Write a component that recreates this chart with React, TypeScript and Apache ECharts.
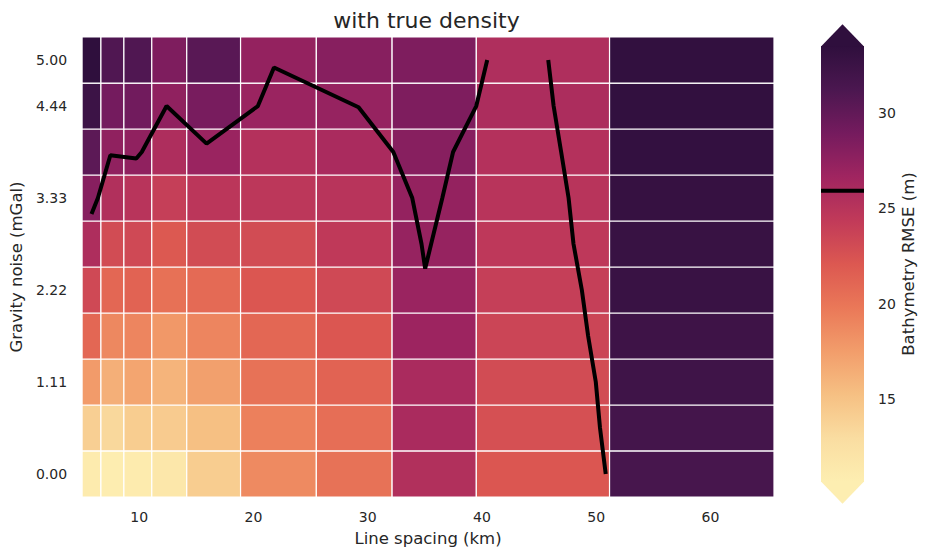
import React, { useEffect, useRef } from "react";
import * as echarts from "echarts";

const TITLE = "with true density";
const X_NAME = "Line spacing (km)";
const Y_NAME = "Gravity noise (mGal)";
const CBAR_NAME = "Bathymetry RMSE (m)";

// cell centres
const X_CENTERS = [5.83, 7.48, 9.85, 12.36, 15.97, 21.78, 29.23, 35.04, 43.97, 58.36];
const Y_CENTERS = [0, 0.556, 1.111, 1.667, 2.222, 2.778, 3.333, 3.889, 4.444, 5.0];

const X_TICKS = [10, 20, 30, 40, 50, 60];
const Y_TICKS = [0, 1.111, 2.222, 3.333, 4.444, 5.0];
const CBAR_TICKS = [15, 20, 25, 30];

// RMSE per row, bottom (noise 0) to top (noise 5); columns follow X_CENTERS
const RMSE_ROW_0 = [11.0, 10.8, 11.0, 11.6, 14.2, 18.7, 20.2, 25.5, 22.2, 31.6];
const RMSE_ROW_1 = [14.0, 13.3, 14.2, 14.3, 15.2, 19.3, 20.5, 26.0, 22.7, 31.8];
const RMSE_ROW_2 = [17.6, 16.3, 17.0, 16.0, 17.3, 20.2, 21.3, 26.0, 23.0, 32.2];
const RMSE_ROW_3 = [21.0, 18.8, 19.0, 17.8, 19.0, 21.0, 22.2, 26.8, 23.5, 32.3];
const RMSE_ROW_4 = [23.2, 21.0, 21.3, 20.3, 20.8, 22.2, 23.2, 27.0, 24.0, 32.7];
const RMSE_ROW_5 = [25.7, 23.0, 23.2, 22.0, 23.0, 23.0, 24.5, 27.2, 24.6, 32.8];
const RMSE_ROW_6 = [28.0, 25.5, 25.0, 24.0, 24.8, 24.7, 25.0, 27.3, 25.0, 33.0];
const RMSE_ROW_7 = [30.3, 27.5, 27.5, 25.7, 27.0, 25.3, 26.0, 28.0, 25.3, 33.2];
const RMSE_ROW_8 = [32.5, 29.0, 29.2, 27.5, 28.8, 27.0, 27.2, 28.5, 25.8, 33.3];
const RMSE_ROW_9 = [33.5, 31.0, 31.0, 28.5, 30.5, 27.3, 28.0, 28.5, 25.6, 33.3];
const RMSE_ROWS = [
  RMSE_ROW_0, RMSE_ROW_1, RMSE_ROW_2, RMSE_ROW_3, RMSE_ROW_4,
  RMSE_ROW_5, RMSE_ROW_6, RMSE_ROW_7, RMSE_ROW_8, RMSE_ROW_9,
];

// contour of the threshold RMSE
const CONTOUR_LEVEL = 25.93;
const CONTOUR_A = [
  [5.83, 3.14], [6.39, 3.333], [7.48, 3.85], [9.75, 3.81], [10.23, 3.889],
  [12.4, 4.444], [15.9, 3.99], [20.39, 4.444], [21.8, 4.91], [29.2, 4.43],
  [32.24, 3.889], [33.9, 3.333], [34.71, 2.778], [35.03, 2.48], [35.55, 2.778],
  [36.53, 3.333], [37.47, 3.889], [39.5, 4.444], [40.46, 5.0],
];
const CONTOUR_B = [
  [45.8, 5.0], [46.27, 4.444], [46.93, 3.889], [47.58, 3.333], [48.01, 2.778],
  [48.74, 2.222], [49.29, 1.667], [49.96, 1.111], [50.33, 0.556], [50.83, 0.0],
];

const CB_MIN = 10.62;
const CB_MAX = 33.54;
const CMAP = [
  "#FDEEB1", "#FADDA1", "#F6C083", "#F29D6B", "#EA7858", "#DC5851",
  "#C13A59", "#A02560", "#751B5E", "#4B1750", "#2F0F3D",
];

const TEXT = "#262626";
const FONT = "DejaVu Sans";

function edges(c: number[]): number[] {
  const e: number[] = [];
  e.push(c[0] - (c[1] - c[0]) / 2);
  for (let i = 0; i < c.length - 1; i++) e.push((c[i] + c[i + 1]) / 2);
  const n = c.length;
  e.push(c[n - 1] + (c[n - 1] - c[n - 2]) / 2);
  return e;
}

export default function App() {
  const ref = useRef<HTMLDivElement>(null);
  useEffect(() => {
    document.body.style.margin = "0";
    if (!ref.current) return;
    const chart = echarts.init(ref.current, undefined, { renderer: "svg" });
    const xE = edges(X_CENTERS);
    const yE = edges(Y_CENTERS);
    const cells: number[][] = [];
    RMSE_ROWS.forEach((row, j) => {
      row.forEach((v, i) => {
        cells.push([xE[i], xE[i + 1], yE[j], yE[j + 1], v]);
      });
    });
    const stops = CMAP.map((c, i) => ({ offset: i / (CMAP.length - 1), color: c }));

    chart.setOption({
      animation: false,
      textStyle: { fontFamily: FONT },
      graphic: [
        {
          type: "text",
          x: 426.5,
          y: 20,
          style: {
            text: TITLE,
            fontSize: 22,
            fontFamily: FONT,
            fill: TEXT,
            textAlign: "center",
            textVerticalAlign: "middle",
            align: "center",
            verticalAlign: "middle",
          },
        },
      ],
      grid: [
        { left: 79, top: 37, width: 695, height: 460 },
        { left: 821, top: 46, width: 43, height: 436 },
      ],
      xAxis: [
        {
          type: "value",
          gridIndex: 0,
          min: xE[0],
          max: xE[xE.length - 1],
          axisLine: { show: false },
          axisTick: { show: false },
          splitLine: { show: false },
          axisLabel: {
            customValues: X_TICKS,
            fontSize: 14,
            color: TEXT,
            margin: 13,
          },
          name: X_NAME,
          nameLocation: "middle",
          nameGap: 33,
          nameTextStyle: { fontSize: 16.5, color: TEXT },
        },
        { type: "value", gridIndex: 1, min: 0, max: 1, show: false },
      ],
      yAxis: [
        {
          type: "value",
          gridIndex: 0,
          min: yE[0],
          max: yE[yE.length - 1],
          axisLine: { show: false },
          axisTick: { show: false },
          splitLine: { show: false },
          axisLabel: {
            customValues: Y_TICKS,
            formatter: (v: number) => v.toFixed(2),
            fontSize: 14,
            color: TEXT,
            margin: 15,
          },
          name: Y_NAME,
          nameLocation: "middle",
          nameGap: 55,
          nameRotate: 90,
          nameTextStyle: { fontSize: 16.5, color: TEXT },
        },
        {
          type: "value",
          gridIndex: 1,
          position: "right",
          offset: 6,
          min: CB_MIN,
          max: CB_MAX,
          axisLine: { show: false },
          axisTick: {
            show: true,
            customValues: CBAR_TICKS,
            length: 4.5,
            lineStyle: { color: TEXT, width: 1.2 },
          },
          splitLine: { show: false },
          axisLabel: {
            customValues: CBAR_TICKS,
            fontSize: 14,
            color: TEXT,
            margin: 8,
          },
          name: CBAR_NAME,
          nameLocation: "middle",
          nameGap: 30,
          nameRotate: 90,
          nameTextStyle: { fontSize: 16.5, color: TEXT },
        },
      ],
      visualMap: {
        type: "continuous",
        show: false,
        min: CB_MIN,
        max: CB_MAX,
        dimension: 4,
        seriesIndex: 0,
        inRange: { color: CMAP },
      },
      series: [
        {
          type: "custom",
          xAxisIndex: 0,
          yAxisIndex: 0,
          clip: true,
          encode: { x: [0, 1], y: [2, 3] },
          data: cells,
          renderItem: (params: any, api: any) => {
            const p0 = api.coord([api.value(0), api.value(3)]);
            const p1 = api.coord([api.value(1), api.value(2)]);
            return {
              type: "rect",
              shape: { x: p0[0], y: p0[1], width: p1[0] - p0[0], height: p1[1] - p0[1] },
              style: { fill: api.visual("color"), stroke: "#ffffff", lineWidth: 1.2 },
            };
          },
        },
        {
          type: "line",
          xAxisIndex: 0,
          yAxisIndex: 0,
          data: CONTOUR_A,
          showSymbol: false,
          symbol: "none",
          lineStyle: { color: "#000000", width: 4 },
          z: 5,
        },
        {
          type: "line",
          xAxisIndex: 0,
          yAxisIndex: 0,
          data: CONTOUR_B,
          showSymbol: false,
          symbol: "none",
          lineStyle: { color: "#000000", width: 4 },
          z: 5,
        },
        {
          type: "custom",
          xAxisIndex: 1,
          yAxisIndex: 1,
          clip: false,
          data: [[0.5, (CB_MIN + CB_MAX) / 2]],
          renderItem: (params: any, api: any) => {
            const tl = api.coord([0, CB_MAX]);
            const br = api.coord([1, CB_MIN]);
            const ext = 0.05 * (CB_MAX - CB_MIN);
            const tipT = api.coord([0.5, CB_MAX + ext]);
            const tipB = api.coord([0.5, CB_MIN - ext]);
            const l0 = api.coord([0, CONTOUR_LEVEL]);
            const l1 = api.coord([1, CONTOUR_LEVEL]);
            return {
              type: "group",
              children: [
                {
                  type: "rect",
                  shape: { x: tl[0], y: tl[1], width: br[0] - tl[0], height: br[1] - tl[1] },
                  style: { fill: new echarts.graphic.LinearGradient(0, 1, 0, 0, stops) },
                },
                {
                  type: "polygon",
                  shape: { points: [[tl[0], tl[1] + 0.5], [br[0], tl[1] + 0.5], [tipT[0], tipT[1]]] },
                  style: { fill: CMAP[CMAP.length - 1] },
                },
                {
                  type: "polygon",
                  shape: { points: [[tl[0], br[1] - 0.5], [br[0], br[1] - 0.5], [tipB[0], tipB[1]]] },
                  style: { fill: CMAP[0] },
                },
                {
                  type: "line",
                  shape: { x1: l0[0], y1: l0[1], x2: l1[0], y2: l1[1] },
                  style: { stroke: "#000000", lineWidth: 4 },
                },
              ],
            };
          },
        },
      ],
    });
    return () => chart.dispose();
  }, []);
  return <div ref={ref} style={{ width: 928, height: 557 }} />;
}
